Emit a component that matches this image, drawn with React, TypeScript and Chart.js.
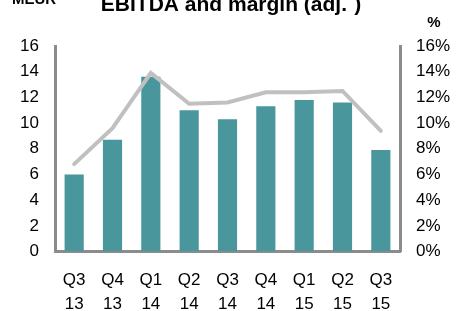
import React, { useEffect, useRef } from "react";
import { Chart, registerables } from "chart.js";

Chart.register(...registerables);

const categories: string[][] = [
  ["Q3", "13"], ["Q4", "13"], ["Q1", "14"], ["Q2", "14"], ["Q3", "14"],
  ["Q4", "14"], ["Q1", "15"], ["Q2", "15"], ["Q3", "15"],
];
const ebitda: number[] = [6.0, 8.7, 13.6, 11.0, 10.3, 11.3, 11.8, 11.6, 7.9];
const margin: number[] = [6.8, 9.6, 13.9, 11.5, 11.6, 12.4, 12.4, 12.5, 9.4];

const titleMain = "EBITDA and margin (adj.";
const titleSup = "1";
const titleEnd = ")";
const leftUnit = "MEUR";
const rightUnit = "%";

const FONT = "'Liberation Sans', Arial, sans-serif";

const textPlugin = {
  id: "extraText",
  afterDraw(chart: any) {
    const ctx = chart.ctx;
    ctx.save();
    ctx.fillStyle = "#000";
    ctx.textBaseline = "alphabetic";
    ctx.textAlign = "left";
    const mainFont = `bold 21px ${FONT}`;
    const supFont = `bold 13px ${FONT}`;
    ctx.font = mainFont;
    const w1 = ctx.measureText(titleMain).width;
    const w3 = ctx.measureText(titleEnd).width;
    ctx.font = supFont;
    const w2 = ctx.measureText(titleSup).width;
    const total = w1 + w2 + w3;
    let x = 231 - total / 2;
    ctx.font = mainFont;
    ctx.fillText(titleMain, x, 11);
    x += w1;
    ctx.font = supFont;
    ctx.fillText(titleSup, x, -3);
    x += w2;
    ctx.font = mainFont;
    ctx.fillText(titleEnd, x, 11);

    ctx.font = `bold 15px ${FONT}`;
    ctx.textAlign = "left";
    ctx.fillText(leftUnit, 12, 4);
    ctx.textAlign = "center";
    ctx.fillText(rightUnit, 434, 27);
    ctx.restore();
  },
};

export default function App() {
  const ref = useRef<HTMLCanvasElement | null>(null);
  useEffect(() => {
    if (!ref.current) return;
    const chart = new Chart(ref.current, {
      type: "bar",
      data: {
        labels: categories,
        datasets: [
          {
            type: "line",
            data: margin,
            yAxisID: "y1",
            borderColor: "#C0C0C0",
            borderWidth: 4,
            pointRadius: 0,
            tension: 0,
            borderCapStyle: "round",
            borderJoinStyle: "miter",
            order: 0,
          } as any,
          {
            type: "bar",
            data: ebitda,
            yAxisID: "y",
            backgroundColor: "#4A969D",
            barPercentage: 0.5,
            categoryPercentage: 1,
            order: 1,
          },
        ],
      },
      options: {
        responsive: false,
        animation: false,
        layout: { padding: { top: 46, left: 0, right: 0, bottom: 0 } },
        plugins: { legend: { display: false }, tooltip: { enabled: false } },
        scales: {
          x: {
            grid: { display: false, drawTicks: false },
            border: { display: true, color: "#8C8C8C", width: 3 },
            ticks: {
              color: "#000",
              font: { family: FONT, size: 17, lineHeight: 1.4 },
              padding: 17,
              maxRotation: 0,
              autoSkip: false,
            },
            afterFit(s: any) { s.height = 311 - 251.5; },
          },
          y: {
            position: "left",
            min: 0,
            max: 16,
            grid: { display: false, drawTicks: false },
            border: { display: true, color: "#8C8C8C", width: 3 },
            ticks: {
              stepSize: 2,
              color: "#000",
              font: { family: FONT, size: 17 },
              padding: 16,
            },
            afterFit(s: any) { s.width = 55; },
          },
          y1: {
            position: "right",
            min: 0,
            max: 16,
            grid: { display: false, drawTicks: false },
            border: { display: true, color: "#8C8C8C", width: 3 },
            ticks: {
              stepSize: 2,
              color: "#000",
              font: { family: FONT, size: 17 },
              padding: 16,
              callback: (v: any) => v + "%",
            },
            afterFit(s: any) { s.width = 56; },
          },
        },
      },
      plugins: [textPlugin],
    });
    return () => chart.destroy();
  }, []);
  return (
    <div style={{ position: "absolute", left: 0, top: 0, width: 456, height: 311, background: "#fff" }}>
      <canvas ref={ref} width={456} height={311} />
    </div>
  );
}
